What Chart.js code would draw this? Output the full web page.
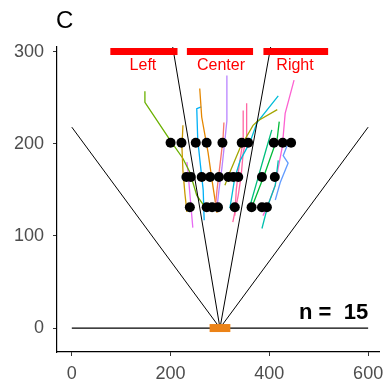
<!DOCTYPE html>
<html>
<head>
<meta charset="utf-8">
<script src="https://cdn.jsdelivr.net/npm/chart.js@4"></script>
<style>
  body { margin: 0; background: #fff; }
  #wrap { width: 384px; height: 387px; }
</style>
</head>
<body>
<div id="wrap"><canvas id="chart" width="384" height="387"></canvas></div>
<script>
// axis ticks
const xTicks = [0, 200, 400, 600];
const yTicks = [0, 100, 200, 300];

// target zones (red bars at the top)
const zoneNames = ['Left', 'Center', 'Right'];
const zoneStart = [78, 233, 388];
const zoneEnd = [214, 367, 519];
const zoneY = 300;
const zoneLabelX = [144, 302, 452];
const zoneLabelY = 285;

// start point + guide lines
const startX = 300;
const startHalfWidth = 21;
const guideEnds = [[0, 218], [600, 218], [204, 306], [403, 306]];
const baseLine = [0, 600];

// black dots, three rows
const row1Y = 201;
const row1X = [200, 222, 251, 273, 305, 344, 357, 409, 427, 444];
const row2Y = 164;
const row2X = [232, 241, 263, 280, 298, 317, 327, 337, 385, 411];
const row3Y = 131;
const row3X = [239, 273, 284, 296, 330, 364, 385, 395];

// hand trajectories, [x, y] pairs
const trajColors = ['#F8766D', '#E58700', '#C99800', '#A3A500', '#6BB100', '#00BA38', '#00BF7D', '#00C0AF',
  '#00BCD8', '#00B0F6', '#619CFF', '#B983FF', '#E76BF3', '#FD61D1', '#FF67A4', '#FF67A4'];
const trajectories = [
  [[308, 223], [306, 204], [300, 177], [294, 150], [290, 128]],
  [[259, 260], [263, 229], [276, 190], [284, 160], [294, 125]],
  [[225, 220], [223, 196], [225, 171], [229, 146], [233, 126]],
  [[416, 237], [377, 225], [367, 220], [341, 196], [320, 169], [310, 155]],
  [[148, 257], [148, 245], [199, 204], [225, 184], [239, 169], [253, 144], [270, 131]],
  [[420, 224], [416, 206], [391, 168], [368, 136], [362, 128]],
  [[405, 215], [393, 193], [377, 163], [361, 133]],
  [[418, 182], [412, 155], [397, 133], [385, 108]],
  [[418, 252], [375, 223], [361, 202], [341, 182], [330, 163], [320, 130]],
  [[262, 240], [253, 238], [255, 204], [260, 179], [266, 150], [268, 117]],
  [[436, 198], [428, 187], [438, 179], [422, 158], [412, 139]],
  [[314, 274], [314, 225], [310, 204], [304, 174], [298, 150], [294, 131]],
  [[233, 180], [235, 171], [239, 146], [245, 109]],
  [[450, 269], [432, 233], [426, 196], [418, 174], [412, 155], [397, 133], [387, 122]],
  [[354, 244], [354, 207], [347, 190], [343, 166], [337, 144], [326, 115]],
  [[347, 236], [347, 204], [339, 177], [333, 150], [330, 122]]
];

const nLabel = 'n =  15';
const nLabelX = 600;
const nLabelY = 16;

function toPts(arr) {
  return arr.map(p => ({ x: p[0], y: p[1] }));
}

const datasets = [];

// trajectories (bottom layer)
trajectories.forEach((t, i) => {
  datasets.push({ data: toPts(t), showLine: true, borderColor: trajColors[i], borderWidth: 1.3,
    pointRadius: 0, order: 5 });
});

// guide lines from the start point
guideEnds.forEach(e => {
  datasets.push({ data: [{ x: startX, y: 0 }, { x: e[0], y: e[1] }], showLine: true,
    borderColor: '#000', borderWidth: 1, pointRadius: 0, order: 3 });
});
datasets.push({ data: [{ x: baseLine[0], y: 0 }, { x: baseLine[1], y: 0 }], showLine: true,
  borderColor: '#000', borderWidth: 1.2, pointRadius: 0, order: 3 });

// start box
datasets.push({ data: [{ x: startX - startHalfWidth, y: 0 }, { x: startX + startHalfWidth, y: 0 }],
  showLine: true, borderColor: '#EC8317', borderWidth: 8, borderCapStyle: 'butt', pointRadius: 0, order: 2 });

// red zone bars
zoneStart.forEach((s, i) => {
  datasets.push({ data: [{ x: s, y: zoneY }, { x: zoneEnd[i], y: zoneY }], showLine: true,
    borderColor: '#FF0000', borderWidth: 7, borderCapStyle: 'butt', pointRadius: 0, order: 2 });
});

// black dots
[[row1X, row1Y], [row2X, row2Y], [row3X, row3Y]].forEach(r => {
  datasets.push({ data: r[0].map(x => ({ x: x, y: r[1] })), showLine: false,
    pointRadius: 5, pointBackgroundColor: '#000', pointBorderWidth: 0, order: 1 });
});

// texts: panel letter, zone names, n label
const textPlugin = {
  id: 'texts',
  afterDatasetsDraw(chart) {
    const ctx = chart.ctx;
    const xs = chart.scales.x, ys = chart.scales.y;
    ctx.save();
    ctx.fillStyle = '#FF0000';
    ctx.font = '16px "Liberation Sans", Arial, sans-serif';
    ctx.textAlign = 'center';
    ctx.textBaseline = 'middle';
    zoneNames.forEach((n, i) => {
      ctx.fillText(n, xs.getPixelForValue(zoneLabelX[i]), ys.getPixelForValue(zoneLabelY));
    });
    ctx.fillStyle = '#000';
    ctx.font = 'bold 22px "Liberation Sans", Arial, sans-serif';
    ctx.textAlign = 'right';
    ctx.fillText(nLabel, xs.getPixelForValue(nLabelX), ys.getPixelForValue(nLabelY));
    ctx.font = '24px "Liberation Sans", Arial, sans-serif';
    ctx.textAlign = 'left';
    ctx.textBaseline = 'alphabetic';
    ctx.fillText('C', 56, 28);
    ctx.restore();
  }
};

const tickFont = { family: '"Liberation Sans", Arial, sans-serif', size: 18 };

new Chart(document.getElementById('chart'), {
  type: 'scatter',
  data: { datasets: datasets },
  options: {
    responsive: false,
    animation: false,
    layout: { padding: { top: 47, right: 1, left: 0, bottom: 0 } },
    plugins: { legend: { display: false }, tooltip: { enabled: false } },
    scales: {
      x: {
        min: -30, max: 622,
        afterBuildTicks: a => { a.ticks = xTicks.map(v => ({ value: v })); },
        afterFit: s => { s.height = 35; s.paddingLeft = 0; s.paddingRight = 0; },
        grid: { drawOnChartArea: false, drawTicks: true, tickLength: 4, color: '#333' },
        border: { color: '#000', width: 1.2 },
        ticks: { color: '#4D4D4D', font: tickFont, padding: 7, maxRotation: 0 }
      },
      y: {
        min: -26, max: 305,
        afterBuildTicks: a => { a.ticks = yTicks.map(v => ({ value: v })); },
        afterFit: s => { s.width = 57; s.paddingTop = 0; s.paddingBottom = 0; },
        grid: { drawOnChartArea: false, drawTicks: true, tickLength: 4, color: '#333' },
        border: { color: '#000', width: 1.2 },
        ticks: { color: '#4D4D4D', font: tickFont, padding: 9 }
      }
    }
  },
  plugins: [textPlugin]
});
</script>
</body>
</html>
